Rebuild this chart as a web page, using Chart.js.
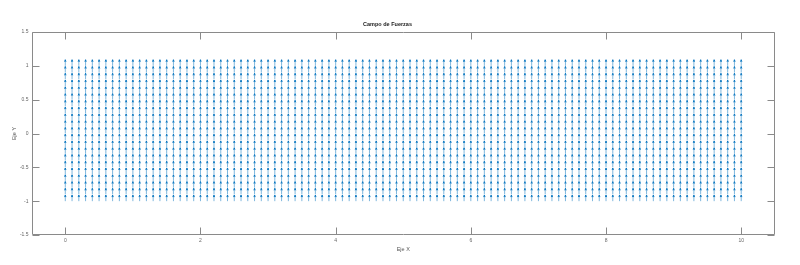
<!DOCTYPE html>
<html><head><meta charset="utf-8">
<script src="https://cdn.jsdelivr.net/npm/chart.js@4/dist/chart.umd.min.js"></script>
<style>html,body{margin:0;padding:0;background:#fff;overflow:hidden}</style>
</head><body>
<canvas id="c" width="800" height="265"></canvas>
<script>
// Grid of arrow tails (x, y) and the constant force field components (u, v)
const xGrid = [
  0,0.1,0.2,0.3,0.4,0.5,0.6,0.7,0.8,0.9,
  1,1.1,1.2,1.3,1.4,1.5,1.6,1.7,1.8,1.9,
  2,2.1,2.2,2.3,2.4,2.5,2.6,2.7,2.8,2.9,
  3,3.1,3.2,3.3,3.4,3.5,3.6,3.7,3.8,3.9,
  4,4.1,4.2,4.3,4.4,4.5,4.6,4.7,4.8,4.9,
  5,5.1,5.2,5.3,5.4,5.5,5.6,5.7,5.8,5.9,
  6,6.1,6.2,6.3,6.4,6.5,6.6,6.7,6.8,6.9,
  7,7.1,7.2,7.3,7.4,7.5,7.6,7.7,7.8,7.9,
  8,8.1,8.2,8.3,8.4,8.5,8.6,8.7,8.8,8.9,
  9,9.1,9.2,9.3,9.4,9.5,9.6,9.7,9.8,9.9,
  10
];
const yGrid = [-1,-0.9,-0.8,-0.7,-0.6,-0.5,-0.4,-0.3,-0.2,-0.1,0,0.1,0.2,0.3,0.4,0.5,0.6,0.7,0.8,0.9,1];
const fieldU = [0];      // horizontal component (same everywhere)
const fieldV = [1];      // vertical component (same everywhere)
const arrowScale = [0.09];
const xTicks = [0,2,4,6,8,10];
const yTicks = [-1.5,-1,-0.5,0,0.5,1,1.5];

const points = [];
for (const y of yGrid) for (const x of xGrid) points.push({x: x, y: y, u: fieldU[0], v: fieldV[0]});

const quiver = {
  id: 'quiver',
  afterDatasetsDraw(chart) {
    const xs = chart.scales.x, ys = chart.scales.y, c = chart.ctx;
    const ds = chart.data.datasets[0];
    const s = arrowScale[0], a = 0.33, b = 0.33;
    c.save();
    // shafts
    c.strokeStyle = 'rgba(0,114,189,0.5)';
    c.lineWidth = 1;
    c.beginPath();
    for (const p of ds.data) {
      const uu = p.u * s, vv = p.v * s;
      c.moveTo(xs.getPixelForValue(p.x), ys.getPixelForValue(p.y));
      c.lineTo(xs.getPixelForValue(p.x + uu), ys.getPixelForValue(p.y + vv));
    }
    c.stroke();
    // heads
    c.strokeStyle = '#0072BD';
    c.lineWidth = 0.9;
    c.beginPath();
    for (const p of ds.data) {
      const uu = p.u * s, vv = p.v * s;
      const x1 = xs.getPixelForValue(p.x + uu), y1 = ys.getPixelForValue(p.y + vv);
      const hx1 = xs.getPixelForValue(p.x + uu - a * (uu + b * vv));
      const hy1 = ys.getPixelForValue(p.y + vv - a * (vv - b * uu));
      const hx2 = xs.getPixelForValue(p.x + uu - a * (uu - b * vv));
      const hy2 = ys.getPixelForValue(p.y + vv - a * (vv + b * uu));
      c.moveTo(hx1, hy1); c.lineTo(x1, y1); c.lineTo(hx2, hy2);
    }
    c.stroke();
    c.restore();
  },
  afterDraw(chart) {
    const xs = chart.scales.x, ys = chart.scales.y, c = chart.ctx;
    const A = chart.chartArea;
    const L = Math.round(A.left) + 0.5, R = Math.round(A.right) - 0.5;
    const T = Math.round(A.top) + 0.5, B = Math.round(A.bottom) - 0.5;
    const tl = 7;
    c.save();
    c.strokeStyle = '#8a8a8a';
    c.lineWidth = 1;
    c.beginPath();
    c.rect(L, T, R - L, B - T);
    for (const v of xTicks) {
      const px = Math.round(xs.getPixelForValue(v)) + 0.5;
      c.moveTo(px, B); c.lineTo(px, B - tl);
      c.moveTo(px, T); c.lineTo(px, T + tl);
    }
    for (const v of yTicks) {
      const py = Math.round(ys.getPixelForValue(v)) + 0.5;
      c.moveTo(L, py); c.lineTo(L + tl, py);
      c.moveTo(R, py); c.lineTo(R - tl, py);
    }
    c.stroke();
    c.restore();
  }
};

const FONT = 'Liberation Sans, Arial, Helvetica, sans-serif';
new Chart(document.getElementById('c'), {
  type: 'scatter',
  data: {datasets: [{data: points, pointRadius: 0, pointHoverRadius: 0, borderColor: '#0072BD', backgroundColor: '#0072BD'}]},
  options: {
    responsive: false, animation: false, devicePixelRatio: 1,
    events: [],
    layout: {padding: {left: 0, right: 25, top: 0, bottom: 0}},
    plugins: {
      legend: {display: false}, tooltip: {enabled: false},
      title: {display: true, text: 'Campo de Fuerzas', color: '#1a1a1a',
        font: {family: FONT, size: 5.5, weight: 'bold', lineHeight: 1.2},
        padding: {top: 20.7, bottom: 4.7}}
    },
    scales: {
      x: {
        type: 'linear', min: -0.5, max: 10.5,
        afterBuildTicks: s => { s.ticks = xTicks.map(v => ({value: v})); },
        grid: {display: false, drawTicks: false}, border: {display: false},
        ticks: {padding: 3, autoSkip: false, maxRotation: 0, color: '#666',
          font: {family: FONT, size: 5}, callback: v => String(v)},
        title: {display: true, text: 'Eje X', color: '#555',
          font: {family: FONT, size: 5.5, lineHeight: 1.2}, padding: {top: 12.7, bottom: 12.7}},
        afterFit: s => { s.height = 30; }
      },
      y: {
        type: 'linear', min: -1.5, max: 1.5,
        afterBuildTicks: s => { s.ticks = yTicks.map(v => ({value: v})); },
        grid: {display: false, drawTicks: false}, border: {display: false},
        ticks: {padding: 3, autoSkip: false, color: '#666',
          font: {family: FONT, size: 5}, callback: v => String(v)},
        title: {display: true, text: 'Eje Y', color: '#555',
          font: {family: FONT, size: 5.5, lineHeight: 1.2}, padding: {top: 11.2, bottom: 11.2}},
        afterFit: s => { s.width = 31.5; }
      }
    }
  },
  plugins: [quiver]
});
</script>
</body></html>
